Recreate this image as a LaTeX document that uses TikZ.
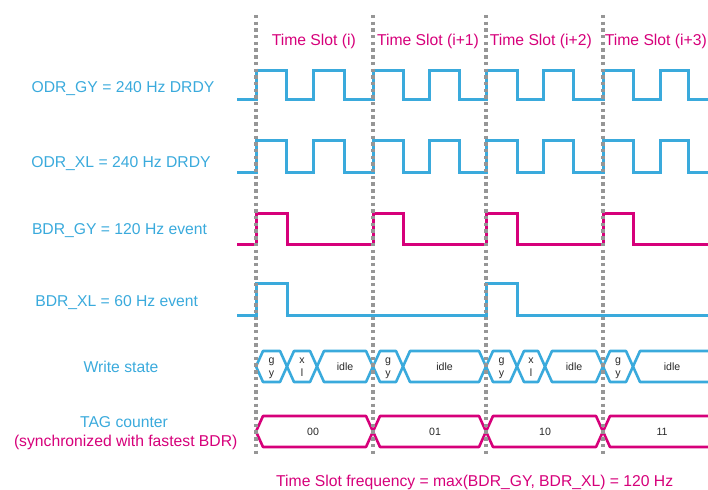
\documentclass[tikz,border=0pt]{standalone}
\usepackage{fontspec}
\setmainfont{Liberation Sans}
\definecolor{stblue}{RGB}{58,170,220}
\definecolor{stpink}{RGB}{214,0,122}
\definecolor{dotgray}{RGB}{150,150,150}
\definecolor{txtdark}{RGB}{40,40,40}
\begin{document}
\begin{tikzpicture}[x=1pt,y=-1pt,
  wave/.style={line width=3pt, line join=miter},
  bus/.style={line width=2.6pt, line join=round},
  lbl/.style={font=\fontsize{15.7}{18}\selectfont, anchor=base, inner sep=0pt},
  small/.style={font=\fontsize{10.6}{12}\selectfont, anchor=base, inner sep=0pt, text=txtdark},
  slotline/.style={dotgray, line width=3.6pt, dash pattern=on 3.4pt off 3.3pt}]
\useasboundingbox (0,0) rectangle (708,489);

% --- left labels
\node[lbl, text=stblue] (lodrgy) at (123,92.3) {ODR\_GY = 240 Hz DRDY};
\node[lbl, text=stblue] (lodrxl) at (121,167.3) {ODR\_XL = 240 Hz DRDY};
\node[lbl, text=stblue] (lbdrgy) at (119.5,234.3) {BDR\_GY = 120 Hz event};
\node[lbl, text=stblue] (lbdrxl) at (116.7,306) {BDR\_XL = 60 Hz event};
\node[lbl, text=stblue] (lws) at (121,372.7) {Write state};
\node[lbl, text=stblue] (ltag) at (124,427.3) {TAG counter};
\node[lbl, text=stpink] (lsync) at (125.7,446) {(synchronized with fastest BDR)};

% --- time slot labels
\node[lbl, text=stpink] (ts0) at (313.8,45.7) {Time Slot (i)};
\node[lbl, text=stpink] (ts1) at (428,45.7) {Time Slot (i+1)};
\node[lbl, text=stpink] (ts2) at (540.8,45.7) {Time Slot (i+2)};
\node[lbl, text=stpink] (ts3) at (655.8,45.7) {Time Slot (i+3)};
\node[lbl, text=stpink] (freq) at (474.7,486.7) {Time Slot frequency = max(BDR\_GY, BDR\_XL) = 120 Hz};

% --- ODR_GY
\draw[wave, stblue] (237,100) -- (256,100) -- (256,71) -- (286,71) -- (286,100) -- (313,100) -- (313,71) -- (344,71) -- (344,100)
  -- (373,100) -- (373,71) -- (403,71) -- (403,100) -- (429,100) -- (429,71) -- (459,71) -- (459,100)
  -- (486,100) -- (486,71) -- (517,71) -- (517,100) -- (543,100) -- (543,71) -- (573,71) -- (573,100)
  -- (603,100) -- (603,71) -- (633,71) -- (633,100) -- (660,100) -- (660,71) -- (688,71) -- (688,100) -- (712,100);
% --- ODR_XL
\draw[wave, stblue] (237,172) -- (256,172) -- (256,141) -- (286,141) -- (286,172) -- (313,172) -- (313,141) -- (344,141) -- (344,172)
  -- (373,172) -- (373,141) -- (403,141) -- (403,172) -- (429,172) -- (429,141) -- (459,141) -- (459,172)
  -- (486,172) -- (486,141) -- (517,141) -- (517,172) -- (543,172) -- (543,141) -- (573,141) -- (573,172)
  -- (603,172) -- (603,141) -- (633,141) -- (633,172) -- (660,172) -- (660,141) -- (688,141) -- (688,172) -- (712,172);
% --- BDR_GY
\draw[wave, stpink] (237,244) -- (256,244) -- (256,213) -- (287,213) -- (287,244)
  -- (373,244) -- (373,213) -- (403,213) -- (403,244)
  -- (486,244) -- (486,213) -- (517,213) -- (517,244)
  -- (603,244) -- (603,213) -- (633,213) -- (633,244) -- (712,244);
% --- BDR_XL
\draw[wave, stblue] (237,315) -- (256,315) -- (256,283) -- (287,283) -- (287,315)
  -- (486,315) -- (486,283) -- (517,283) -- (517,315) -- (712,315);

% --- Write state bus
\foreach \a/\b in {256/287, 287/317, 317/373, 373/403, 403/486, 486/517, 517/545, 545/603, 603/633}
  \draw[bus, stblue] (\a,366.5) -- (\a+7,351) -- (\b-7,351) -- (\b,366.5) -- (\b-7,382) -- (\a+7,382) -- cycle;
\draw[bus, stblue] (712,351) -- (640,351) -- (633,366.5) -- (640,382) -- (712,382);

\node[small] (g0) at (271.5,363.3) {g};
\node[small] (y0) at (271.5,376.3) {y};
\node[small] (x0) at (302,363.3) {x};
\node[small] (l0) at (302,376.3) {l};
\node[small] (i0) at (345,370) {idle};
\node[small] (g1) at (388,363.3) {g};
\node[small] (y1) at (388,376.3) {y};
\node[small] (i1) at (444.5,370) {idle};
\node[small] (g2) at (501.5,363.3) {g};
\node[small] (y2) at (501.5,376.3) {y};
\node[small] (x2) at (531,363.3) {x};
\node[small] (l2) at (531,376.3) {l};
\node[small] (i2) at (574,370) {idle};
\node[small] (g3) at (618,363.3) {g};
\node[small] (y3) at (618,376.3) {y};
\node[small] (i3) at (672,370) {idle};

% --- TAG counter bus
\foreach \a/\b in {256/373, 373/486, 486/603}
  \draw[bus, stpink] (\a,431.5) -- (\a+7,416) -- (\b-7,416) -- (\b,431.5) -- (\b-7,447) -- (\a+7,447) -- cycle;
\draw[bus, stpink] (712,416) -- (610,416) -- (603,431.5) -- (610,447) -- (712,447);

\node[small] (t0) at (313,435) {00};
\node[small] (t1) at (435,435) {01};
\node[small] (t2) at (545,435) {10};
\node[small] (t3) at (662,435) {11};

% --- time slot boundaries
\foreach \x in {256,373,486,603}
  \draw[slotline] (\x,15) -- (\x,455);
\end{tikzpicture}
\end{document}
